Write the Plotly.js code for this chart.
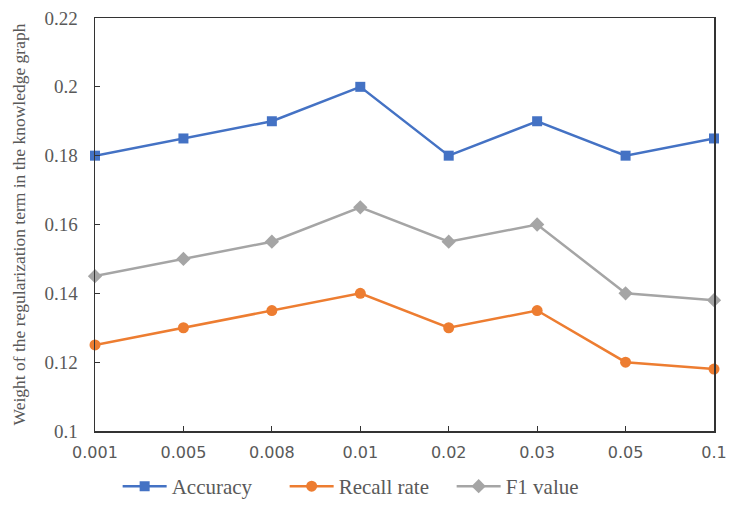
<!DOCTYPE html>
<html>
<head>
<meta charset="utf-8">
<script src="https://cdn.plot.ly/plotly-3.0.1.min.js"></script>
<style>
  html, body { margin: 0; padding: 0; background: #fff; }
  #chart { width: 729px; height: 507px; }
</style>
</head>
<body>
<div id="chart"></div>
<script>
// Regularization weights tested (categorical x axis)
const weights = ['0.001', '0.005', '0.008', '0.01', '0.02', '0.03', '0.05', '0.1'];

// Metric values per weight
const accuracy   = [0.18, 0.185, 0.19, 0.20, 0.18, 0.19, 0.18, 0.185];
const recallRate = [0.125, 0.13, 0.135, 0.14, 0.13, 0.135, 0.12, 0.118];
const f1Value    = [0.145, 0.15, 0.155, 0.165, 0.155, 0.16, 0.14, 0.138];

const yTicks = [0.1, 0.12, 0.14, 0.16, 0.18, 0.2, 0.22];
const yTickText = ['0.1', '0.12', '0.14', '0.16', '0.18', '0.2', '0.22'];

const idx = weights.map((_, i) => i);

function series(name, values, color, symbol, size) {
  return {
    type: 'scatter',
    mode: 'lines+markers',
    name: name,
    x: idx,
    y: values,
    line: { color: color, width: 2.5 },
    marker: { color: color, symbol: symbol, size: size },
    cliponaxis: false
  };
}

const data = [
  series('Accuracy', accuracy, '#4472C4', 'square', 10),
  series('Recall rate', recallRate, '#ED7D31', 'circle', 11),
  series('F1 value', f1Value, '#A5A5A5', 'diamond', 11)
];

const serif = 'Liberation Serif, Times New Roman, serif';

const layout = {
  width: 729,
  height: 507,
  margin: { l: 95, r: 15, t: 18, b: 76 },
  paper_bgcolor: '#ffffff',
  plot_bgcolor: '#ffffff',
  showlegend: true,
  legend: {
    orientation: 'h',
    xref: 'container',
    yref: 'container',
    x: 0.505,
    xanchor: 'center',
    y: -0.01,
    yanchor: 'bottom',
    font: { family: serif, size: 21, color: '#595959' },
    entrywidth: 108,
    itemwidth: 44,
    tracegroupgap: 0
  },
  xaxis: {
    range: [0, 7],
    tickmode: 'array',
    tickvals: idx,
    ticktext: weights,
    showgrid: false,
    zeroline: false,
    showline: true,
    linecolor: '#333333',
    linewidth: 1.5,
    mirror: true,
    ticks: 'inside',
    ticklen: 5,
    tickcolor: '#333333',
    ticklabelstandoff: 6,
    tickfont: { family: 'DejaVu Sans, sans-serif', size: 16, color: '#595959' }
  },
  yaxis: {
    range: [0.1, 0.22],
    tickmode: 'array',
    tickvals: yTicks,
    ticktext: yTickText,
    showgrid: false,
    zeroline: false,
    showline: true,
    linecolor: '#333333',
    linewidth: 1.5,
    mirror: true,
    ticks: 'inside',
    ticklen: 5,
    tickcolor: '#333333',
    ticklabelstandoff: 12,
    tickfont: { family: serif, size: 19, color: '#595959' },
    title: {
      text: 'Weight of the regularization term in the knowledge graph',
      font: { family: serif, size: 17.5, color: '#595959' },
      standoff: 14
    }
  }
};

Plotly.newPlot('chart', data, layout, { displayModeBar: false, staticPlot: true });
</script>
</body>
</html>
